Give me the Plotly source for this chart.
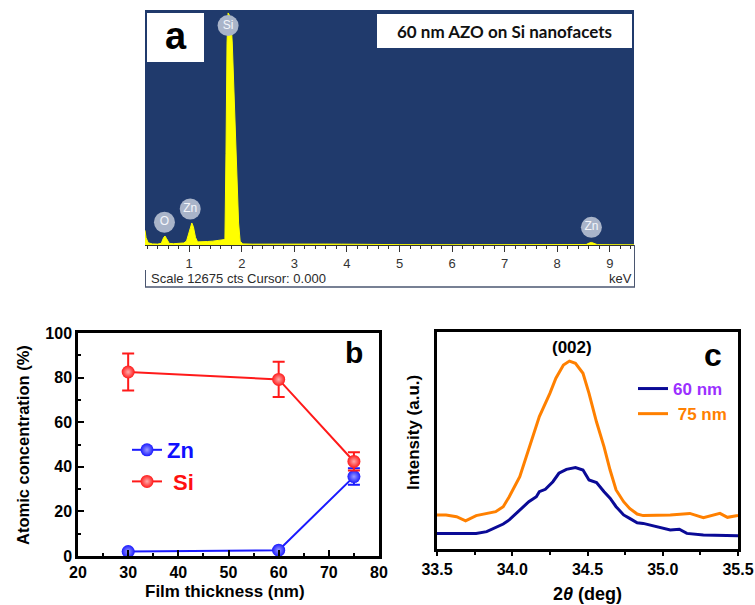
import plotly.graph_objects as go

W, H = 755, 605

# ---------------- Panel a: EDS spectrum ----------------
eds_energy = [0.16, 0.18, 0.22, 0.30, 0.40, 0.47, 0.51, 0.54, 0.57, 0.62, 0.70, 0.80, 0.90,
              0.95, 1.00, 1.03, 1.05, 1.08, 1.12, 1.16, 1.25, 1.35, 1.45, 1.55, 1.62, 1.68,
              1.70, 1.72, 1.74, 1.79, 1.82, 1.86, 1.90, 1.94, 1.97, 2.02, 2.2, 2.5, 2.8, 3.0,
              3.2, 3.4, 3.6, 3.9, 4.2, 5.0, 6.0, 7.0, 8.0, 8.55, 8.61, 8.65, 8.70, 8.76, 9.0, 9.46]
eds_counts = [800, 400, 120, 60, 50, 90, 380, 490, 350, 90, 70, 80, 110,
              220, 700, 1050, 1200, 1000, 420, 170, 160, 190, 210, 240, 270, 300,
              5000, 11000, 12640, 12400, 11000, 7500, 4200, 1200, 200, 60, 45, 55, 50, 70,
              40, 60, 50, 45, 30, 20, 15, 15, 15, 25, 110, 140, 90, 20, 15, 10]
peak_labels = ["Si", "Zn", "O", "Zn"]
peak_label_energy = [1.74, 1.02, 0.53, 8.65]
peak_label_counts = [11950, 1960, 1240, 964]

# ---------------- Panel b: atomic concentration ----------------
thickness = [30, 60, 75]
zn_conc = [2.0, 2.6, 35.6]
zn_err = [0.5, 0.5, 3.7]
si_conc = [82.5, 79.2, 42.4]
si_err = [8.3, 7.9, 4.1]

# ---------------- Panel c: XRD (002) ----------------
xrd_x_60 = [33.49, 33.63, 33.69, 33.76, 33.83, 33.89, 33.94, 33.98, 34.05, 34.11, 34.16,
            34.18, 34.22, 34.27, 34.31, 34.36, 34.42, 34.47, 34.51, 34.56, 34.61, 34.65,
            34.69, 34.74, 34.78, 34.83, 34.87, 34.96, 35.05, 35.11, 35.16, 35.27, 35.50]
xrd_y_60 = [7.2, 7.2, 7.5, 7.2, 8.0, 10.0, 11.5, 13.4, 18.0, 21.8, 24.1,
            26.4, 27.5, 31.0, 34.9, 36.7, 37.5, 36.4, 31.8, 30.6, 26.4, 23.4,
            19.5, 15.7, 14.1, 12.1, 11.8, 10.3, 8.8, 9.1, 7.2, 6.5, 6.1]
xrd_x_75 = [33.49, 33.56, 33.63, 33.69, 33.76, 33.83, 33.89, 33.94, 33.98, 34.05, 34.11,
            34.18, 34.25, 34.29, 34.34, 34.38, 34.42, 34.47, 34.51, 34.56, 34.61, 34.65,
            34.69, 34.74, 34.78, 34.83, 34.87, 34.96, 35.05, 35.18, 35.27, 35.38, 35.43, 35.50]
xrd_y_75 = [15.7, 15.7, 14.9, 13.0, 15.4, 16.4, 17.2, 19.5, 24.1, 33.3, 45.6,
            61.0, 71.7, 78.7, 84.8, 86.6, 85.6, 81.0, 71.7, 58.5, 47.1, 36.4,
            27.2, 21.8, 18.7, 16.1, 15.4, 15.4, 15.7, 16.4, 14.4, 16.4, 14.6, 15.4]


def px(x):
    return x / W


def py(y):
    return 1 - y / H


FONT = "Liberation Sans, Arial, sans-serif"

fig = go.Figure()

# Panel a traces
fig.add_trace(go.Scatter(
    x=eds_energy, y=eds_counts, mode="lines", fill="tozeroy",
    line=dict(color="#ffff00", width=1), fillcolor="#ffff00",
    xaxis="x", yaxis="y", showlegend=False, hoverinfo="skip"))
fig.add_trace(go.Scatter(
    x=peak_label_energy, y=peak_label_counts, mode="markers+text",
    text=peak_labels, textposition="middle center",
    textfont=dict(family=FONT, size=12, color="#f4f6fb"),
    marker=dict(size=21, color="#a9b4c9", line=dict(width=0)),
    cliponaxis=False, xaxis="x", yaxis="y", showlegend=False, hoverinfo="skip"))

# Panel b traces
fig.add_trace(go.Scatter(
    x=thickness, y=zn_conc, mode="lines+markers",
    name="<span style='color:#1010ff'>Zn</span>",
    line=dict(color="#1a1aff", width=2),
    marker=dict(size=13, color="#1a1aff", gradient=dict(type="radial", color="#9a9aff"),
                line=dict(width=0)),
    error_y=dict(type="data", array=zn_err, color="#1a1aff", thickness=2, width=6),
    xaxis="x2", yaxis="y2", legend="legend", cliponaxis=False))
fig.add_trace(go.Scatter(
    x=thickness, y=si_conc, mode="lines+markers",
    name="<span style='color:#ff1010'> Si</span>",
    line=dict(color="#ff1a1a", width=2),
    marker=dict(size=13, color="#ff1a1a", gradient=dict(type="radial", color="#ffaaaa"),
                line=dict(width=0)),
    error_y=dict(type="data", array=si_err, color="#ff1a1a", thickness=2, width=6),
    xaxis="x2", yaxis="y2", legend="legend", cliponaxis=False))

# Panel c traces
fig.add_trace(go.Scatter(
    x=xrd_x_60, y=xrd_y_60, mode="lines",
    name="<span style='color:#9b30ff'>60 nm</span>",
    line=dict(color="#0a0a96", width=3),
    xaxis="x3", yaxis="y3", legend="legend2"))
fig.add_trace(go.Scatter(
    x=xrd_x_75, y=xrd_y_75, mode="lines",
    name="<span style='color:#ff8000'> 75 nm</span>",
    line=dict(color="#ff8000", width=3),
    xaxis="x3", yaxis="y3", legend="legend2"))

bold_tick = dict(family=FONT, size=16, color="black", weight="bold")

fig.update_layout(
    width=W, height=H, margin=dict(l=0, r=0, t=0, b=0, autoexpand=False),
    paper_bgcolor="white", plot_bgcolor="white",
    # Panel a axes
    xaxis=dict(domain=[px(145), px(634)], range=[0.16, 9.46], anchor="y", automargin=False,
               tick0=0, dtick=1, ticks="outside", ticklen=6, tickcolor="#333",
               minor=dict(dtick=0.2, ticks="outside", ticklen=3, tickcolor="#333"),
               showline=True, linecolor="#333", linewidth=1,
               showgrid=False, zeroline=False,
               tickfont=dict(family=FONT, size=13, color="#333")),
    yaxis=dict(domain=[py(245), py(10)], range=[0, 12800], anchor="x", automargin=False,
               visible=False, showgrid=False, zeroline=False),
    # Panel b axes
    xaxis2=dict(domain=[px(78), px(379)], range=[20, 80], anchor="y2", automargin=False,
                dtick=10, ticks="inside", ticklen=6, tickwidth=2, tickcolor="black",
                minor=dict(dtick=5, ticks="inside", ticklen=3, tickwidth=2, tickcolor="black"),
                showline=True, linecolor="black", linewidth=2.5, mirror=True,
                showgrid=False, zeroline=False, tickfont=bold_tick),
    yaxis2=dict(domain=[py(556), py(333)], range=[0, 100], anchor="x2", automargin=False,
                dtick=20, ticks="inside", ticklen=6, tickwidth=2, tickcolor="black",
                minor=dict(dtick=10, ticks="inside", ticklen=3, tickwidth=2, tickcolor="black"),
                showline=True, linecolor="black", linewidth=2.5, mirror=True,
                showgrid=False, zeroline=False, tickfont=bold_tick),
    # Panel c axes
    xaxis3=dict(domain=[px(437), px(738)], range=[33.5, 35.5], anchor="y3", automargin=False,
                dtick=0.5, tickformat=".1f", ticks="outside", ticklen=4, tickwidth=2,
                tickcolor="black",
                minor=dict(dtick=0.25, ticks="outside", ticklen=3, tickwidth=2, tickcolor="black"),
                showline=True, linecolor="black", linewidth=2.5, mirror=True,
                showgrid=False, zeroline=False, tickfont=bold_tick),
    yaxis3=dict(domain=[py(549), py(332)], range=[0, 100], anchor="x3", automargin=False,
                showticklabels=False, ticks="",
                showline=True, linecolor="black", linewidth=2.5, mirror=True,
                showgrid=False, zeroline=False),
    legend=dict(x=px(127), y=py(429), xanchor="left", yanchor="top",
                bgcolor="rgba(0,0,0,0)", borderwidth=0, tracegroupgap=0,
                font=dict(family=FONT, size=22, weight="bold")),
    legend2=dict(x=px(633), y=py(371), xanchor="left", yanchor="top",
                 bgcolor="rgba(0,0,0,0)", borderwidth=0, tracegroupgap=0,
                 font=dict(family=FONT, size=17, weight="bold")),
)

shapes = [
    dict(type="rect", xref="x domain", yref="y domain", x0=0, x1=1, y0=0, y1=1,
         fillcolor="#203a6c", line=dict(width=0), layer="below"),
    dict(type="rect", xref="paper", yref="paper", x0=px(147), x1=px(204), y0=py(62), y1=py(13),
         fillcolor="white", line=dict(width=0)),
    dict(type="rect", xref="paper", yref="paper", x0=px(377), x1=px(632), y0=py(48), y1=py(14),
         fillcolor="white", line=dict(width=0)),
    dict(type="line", xref="paper", yref="paper", x0=px(145), x1=px(635), y0=py(287), y1=py(287),
         line=dict(color="#4a5670", width=1.5)),
    dict(type="line", xref="paper", yref="paper", x0=px(634.5), x1=px(634.5), y0=py(287), y1=py(245),
         line=dict(color="#4a5670", width=1)),
    dict(type="line", xref="paper", yref="paper", x0=px(145.5), x1=px(145.5), y0=py(287), y1=py(270),
         line=dict(color="#4a5670", width=1)),
]

annotations = [
    dict(text="<b>a</b>", x=px(175.5), y=py(36), font=dict(family=FONT, size=38, color="black")),
    dict(text="<b>60 nm AZO on Si nanofacets</b>", x=px(504.5), y=py(31),
         font=dict(family="Lato, sans-serif", size=17, color="#111")),
    dict(text="Scale 12675 cts Cursor: 0.000", x=px(149), y=py(278), xanchor="left",
         font=dict(family=FONT, size=13, color="#2a2a2a")),
    dict(text="keV", x=px(634), y=py(278), xanchor="right",
         font=dict(family=FONT, size=13, color="#2a2a2a")),
    dict(text="<b>Atomic concentration (%)</b>", x=px(23), y=py(445), textangle=-90,
         font=dict(family=FONT, size=16.5, color="black")),
    dict(text="<b>Film thickness (nm)</b>", x=px(225), y=py(591),
         font=dict(family=FONT, size=17, color="black")),
    dict(text="<b>b</b>", x=px(354), y=py(352), font=dict(family=FONT, size=30, color="black")),
    dict(text="<b>Intensity (a.u.)</b>", x=px(413), y=py(433), textangle=-90,
         font=dict(family=FONT, size=17, color="black")),
    dict(text="<b>2<i>θ</i> (deg)</b>", x=px(587), y=py(594),
         font=dict(family=FONT, size=18, color="black")),
    dict(text="<b>(002)</b>", x=px(572), y=py(347), font=dict(family=FONT, size=17, color="black")),
    dict(text="<b>c</b>", x=px(713), y=py(355), font=dict(family=FONT, size=32, color="black")),
]
for a in annotations:
    a.setdefault("xref", "paper")
    a.setdefault("yref", "paper")
    a.setdefault("showarrow", False)
    a.setdefault("xanchor", "center")
    a.setdefault("yanchor", "middle")

fig.update_layout(shapes=shapes, annotations=annotations)

fig.write_html("out.html")
